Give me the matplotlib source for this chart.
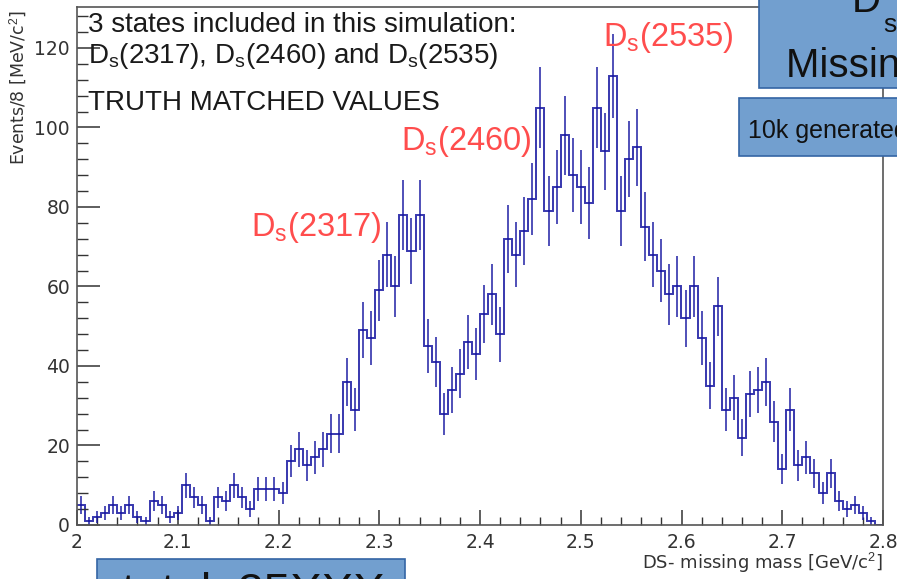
import numpy as np
import matplotlib
matplotlib.use('Agg')
import matplotlib.pyplot as plt
from matplotlib.patches import Rectangle
from matplotlib.ticker import MultipleLocator, FuncFormatter

# events per 8 MeV bin, DS- missing mass from 2.0 to 2.8 GeV/c^2
counts = [5, 1, 2, 3, 5, 3, 5, 2, 1, 6,
          5, 2, 3, 10, 7, 5, 1, 7, 6, 10,
          7, 4, 9, 9, 9, 8, 16, 19, 15, 17,
          19, 23, 23, 36, 29, 49, 47, 59, 68, 60,
          78, 69, 78, 45, 41, 28, 34, 38, 46, 43,
          53, 58, 48, 72, 68, 74, 82, 105, 79, 85,
          98, 88, 85, 81, 105, 94, 113, 79, 92, 95,
          75, 68, 64, 58, 60, 52, 60, 47, 35, 55,
          29, 32, 22, 33, 34, 36, 26, 14, 29, 15,
          17, 13, 8, 13, 6, 4, 5, 3, 1, 0]
x_lo, x_hi = 2.0, 2.8

peak_labels = ['2317', '2460', '2535']

plt.rcParams['mathtext.fontset'] = 'custom'
plt.rcParams['mathtext.rm'] = 'Liberation Sans'
plt.rcParams['mathtext.it'] = 'Liberation Sans:italic'

W, H = 897, 579


def fx(x):
    return x / W


def fy(y):
    return 1 - y / H


counts = np.array(counts, dtype=float)
edges = np.linspace(x_lo, x_hi, len(counts) + 1)
centers = 0.5 * (edges[:-1] + edges[1:])

fig = plt.figure(figsize=(W / 100, H / 100), dpi=100)
ax = fig.add_axes([fx(77), 1 - 525 / H, (883 - 77) / W, (525 - 7) / H])

hcol = '#1414a0'
ax.stairs(counts, edges, baseline=None, color=hcol, lw=1.4, alpha=0.85)
ax.errorbar(centers, counts, yerr=np.sqrt(counts), fmt='none',
            ecolor=hcol, elinewidth=1.4, alpha=0.75, capsize=0)

ax.set_xlim(x_lo, x_hi)
ax.set_ylim(0, 130.3)
ax.xaxis.set_major_locator(MultipleLocator(0.1))
ax.xaxis.set_minor_locator(MultipleLocator(0.02))
ax.yaxis.set_major_locator(MultipleLocator(20))
ax.yaxis.set_minor_locator(MultipleLocator(4))
ax.xaxis.set_major_formatter(FuncFormatter(lambda v, p: f'{v:g}'))
ax.tick_params(which='both', direction='in', colors='#333333', labelsize=13.5)
ax.tick_params(axis='x', which='major', length=11, width=1.1, pad=6)
ax.tick_params(axis='x', which='minor', length=5.5, width=1.0)
ax.tick_params(axis='y', which='major', length=16.5, width=1.1, pad=5)
ax.tick_params(axis='y', which='minor', length=8, width=1.0)
for s in ax.spines.values():
    s.set_color('#555555')
    s.set_linewidth(1.2)

fig.text(fx(18), fy(10), 'Events/8 [MeV/c$^2$]', rotation=90, ha='center',
         va='top', fontsize=12.5, color='#333333')
fig.text(fx(883), fy(569), 'DS- missing mass [GeV/c$^2$]', ha='right',
         va='baseline', fontsize=13, color='#333333')

# simulation notes
tk = dict(family='Liberation Sans', fontsize=20, color='#1a1a1a', zorder=6)
fig.text(fx(88), fy(32), '3 states included in this simulation:', **tk)
fig.text(fx(88), fy(63), r'D$_\mathrm{s}$(2317), D$_\mathrm{s}$(2460) and D$_\mathrm{s}$(2535)', **tk)
fig.text(fx(88), fy(110), 'TRUTH MATCHED VALUES', **tk)

red = '#ff4d4d'
for lab, (px, py) in zip(peak_labels, [(251, 236), (401, 150), (603, 46)]):
    fig.text(fx(px), fy(py), r'D$_\mathrm{s}$(' + lab + ')', family='Liberation Sans',
             fontsize=23.5, color=red, zorder=6)

# slide overlay boxes
box_fc, box_ec = '#729fcf', '#3465a4'
for (x0, y0, x1, y1) in [(759, -5, 910, 88), (739, 98, 910, 156), (97, 559, 405, 600)]:
    fig.add_artist(Rectangle((fx(x0), fy(y1)), fx(x1) - fx(x0), fy(y0) - fy(y1),
                             transform=fig.transFigure, facecolor=box_fc,
                             edgecolor=box_ec, lw=1.2, zorder=5))

bt = dict(family='Liberation Sans', color='#111111', zorder=7)
fig.text(fx(852), fy(12), 'D', fontsize=29, **bt)
fig.text(fx(883), fy(32), 's', fontsize=19, **bt)
fig.text(fx(786), fy(77), 'Missing mass', fontsize=29, **bt)
fig.text(fx(748), fy(138), '10k generated events', fontsize=18, **bt)
fig.text(fx(122), fy(606), 'total: 25XXX', fontsize=34, **bt)

fig.savefig('out.png', dpi=100)
